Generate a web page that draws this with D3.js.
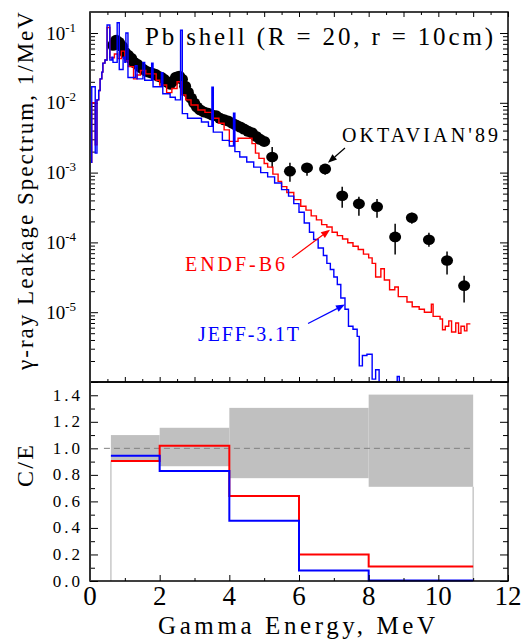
<!DOCTYPE html>
<html lang="en">
<head>
<meta charset="UTF-8">
<title>Pb shell gamma-ray leakage</title>
<script src="https://cdn.jsdelivr.net/npm/d3@7"></script>
<style>
  body { margin: 0; background: #fff; }
  svg text { font-family: "Liberation Serif", "Times New Roman", serif; }
</style>
</head>
<body>
<svg id="chart" width="522" height="640"></svg>
<script>
// ---- values ----
// ENDF-B6 histogram: bin start energy (MeV) and value (1/MeV); last bin ends at redEnd
const redE = [0.00,0.05,0.15,0.20,0.25,0.29,0.34,0.37,0.43,0.49,0.57,0.70,0.80,0.90,1.00,1.10,1.25,1.35,1.45,1.60,
  1.90,2.00,2.20,2.35,2.50,2.62,2.75,2.90,3.10,3.30,3.50,3.70,3.85,4.00,4.25,4.65,4.75,4.85,5.00,5.10,
  5.25,5.40,5.50,5.65,5.85,6.05,6.20,6.35,6.50,6.65,6.80,6.95,7.10,7.25,7.40,7.55,7.70,7.85,8.00,8.10,
  8.20,8.35,8.45,8.60,8.75,8.85,9.10,9.25,9.45,9.60,9.80,9.85,10.05,10.12,10.20,10.30,10.38,10.50,10.58,10.65,
  10.75,10.82];
const redV = [1.4e-3,1.0e-2,2.5e-3,1.1e-2,1.5e-2,2.2e-2,2.75e-2,3.7e-2,4.1e-2,1.2e-1,4.4e-2,5.0e-2,4.3e-2,5.5e-2,4.0e-2,3.3e-2,2.2e-2,2.5e-2,2.9e-2,2.6e-2,
  2.1e-2,1.8e-2,1.4e-2,1.6e-2,2.0e-2,1.3e-2,1.1e-2,9.3e-3,7.9e-3,7.3e-3,6.0e-3,5.1e-3,4.1e-3,2.8e-3,3.1e-3,2.6e-3,1.9e-3,1.6e-3,1.35e-3,1.2e-3,
  9.5e-4,7.5e-4,6.3e-4,5.2e-4,4.1e-4,3.3e-4,2.9e-4,2.4e-4,2.1e-4,1.8e-4,1.66e-4,1.4e-4,1.25e-4,1.12e-4,9.9e-5,8.8e-5,7.9e-5,6.8e-5,6.0e-5,5.0e-5,
  3.2e-5,4.2e-5,2.9e-5,2.1e-5,2.3e-5,1.67e-5,1.4e-5,1.2e-5,1.1e-5,1.0e-5,1.3e-5,8.7e-6,8.0e-6,5.6e-6,6.3e-6,7.5e-6,5.2e-6,7.0e-6,5.0e-6,6.3e-6,
  5.4e-6,6.8e-6];
const redEnd = 10.92;

// JEFF-3.1T histogram
const blueE = [0.00,0.05,0.15,0.20,0.25,0.29,0.34,0.37,0.43,0.49,0.57,0.63,0.66,0.78,0.84,0.95,1.00,1.03,1.09,1.30,
  1.35,1.52,1.57,1.77,1.81,2.05,2.09,2.30,2.45,2.60,2.65,2.80,3.20,3.40,3.50,3.54,3.80,4.00,4.12,4.16,
  4.30,4.50,4.70,4.90,5.10,5.30,5.50,5.70,5.85,6.00,6.15,6.30,6.42,6.55,6.70,6.80,6.90,7.00,7.10,7.20,
  7.32,7.42,7.55,7.67,7.73,7.82,7.95,8.10,8.20,8.30,8.82,8.88];
const blueV = [1.4e-3,1.7e-2,1.9e-3,1.1e-2,1.5e-2,2.2e-2,2.75e-2,3.7e-2,4.1e-2,1.3e-1,4.1e-2,4.5e-2,3.8e-2,1.4e-1,3.0e-2,4.5e-2,3.8e-2,1.0e-1,2.3e-2,3.4e-2,
  2.2e-2,3.8e-2,2.1e-2,3.7e-2,1.7e-2,2.7e-2,1.35e-2,1.2e-2,1.1e-2,1.1e-1,7.0e-3,6.0e-3,5.3e-3,4.6e-3,1.67e-2,3.8e-3,2.9e-3,2.4e-3,7.1e-3,2.0e-3,
  1.67e-3,1.42e-3,1.2e-3,1.0e-3,8.7e-4,7.1e-4,5.7e-4,4.6e-4,3.6e-4,2.7e-4,1.9e-4,1.4e-4,1.1e-4,8.3e-5,6.5e-5,5.0e-5,4.1e-5,3.2e-5,2.5e-5,1.6e-5,
  1.1e-5,6.3e-6,5.7e-6,4.5e-6,1.7e-6,2.4e-6,2.5e-6,1.1e-6,1.5e-6,5e-7,1.2e-6,5e-7];
const blueEnd = 9.0;

// OKTAVIAN'89 measurement, dense part (0.6 - 5 MeV)
const expE = [0.66,0.75,0.83,0.92,1.00,1.09,1.18,1.26,1.35,1.44,1.52,1.61,1.69,1.78,1.87,1.95,2.04,2.12,2.21,2.30,
  2.38,2.47,2.56,2.64,2.73,2.81,2.90,2.99,3.07,3.16,3.27,3.39,3.50,3.62,3.73,3.85,3.96,4.08,4.19,4.31,
  4.42,4.54,4.65,4.77,4.88,5.00];
const expV = [0.0667,0.0787,0.0736,0.0645,0.053,0.048,0.0435,0.0381,0.0357,0.0324,0.0303,0.0284,0.0275,0.0266,0.0257,0.0241,0.0233,0.0218,0.0198,0.0185,
  0.0204,0.0233,0.0241,0.0218,0.0173,0.0142,0.0117,0.0099,0.0087,0.0079,0.0074,0.0071,0.0067,0.0065,0.0060,0.0057,0.0055,0.0051,0.0048,0.0045,
  0.0042,0.0039,0.0037,0.0033,0.0030,0.0028];
// OKTAVIAN'89 measurement, separate points with error bars
const ptE  = [5.23,5.74,6.23,6.75,7.24,7.72,8.24,8.76,9.24,9.73,10.25,10.74];
const ptV  = [1.67e-3,1.05e-3,1.17e-3,1.13e-3,4.65e-4,3.57e-4,3.24e-4,1.2e-4,2.25e-4,1.09e-4,5.5e-5,2.4e-5];
const ptLo = [1.17e-3,7.4e-4,9.0e-4,9.3e-4,3.13e-4,2.4e-4,2.25e-4,6.7e-5,1.85e-4,8.7e-5,3.46e-5,1.38e-5];
const ptHi = [2.33e-3,1.38e-3,1.29e-3,1.29e-3,6.25e-4,4.5e-4,4.2e-4,1.85e-4,2.65e-4,1.38e-4,7.4e-5,3.34e-5];

// C/E ratios in energy groups
const ceEdges = [0.6, 2, 4, 6, 8, 11];
const ceRed   = [0.905, 1.02, 0.64, 0.20, 0.11];
const ceBlue  = [0.945, 0.83, 0.455, 0.08, 0.004];
const bandLo  = [0.90, 0.865, 0.775, 0.775, 0.71];
const bandHi  = [1.10, 1.155, 1.305, 1.305, 1.405];

const logTicks = [1e-1, 1e-2, 1e-3, 1e-4, 1e-5];
const ceTicks = [0.0, 0.2, 0.4, 0.6, 0.8, 1.0, 1.2, 1.4];
const energyTicks = [0, 2, 4, 6, 8, 10, 12];

// ---- layout ----
const svg = d3.select("#chart");
const L = 90, R = 508, T = 12, MID = 382, B = 581;
const x = d3.scaleLinear().domain([0, 12]).range([L, R]);
const yTop = d3.scaleLog().domain([1e-6, 0.2]).range([MID, T]);
const yBot = d3.scaleLinear().domain([0, 1.5]).range([B, MID]);
const RED = "#ff0000", BLUE = "#0000ff";

svg.append("defs").append("clipPath").attr("id", "clipTop")
  .append("rect").attr("x", L).attr("y", T).attr("width", R - L).attr("height", MID - T);

function noDomain(g) { g.select(".domain").remove(); g.selectAll("line").attr("stroke", "#000"); }

// ---- top panel ticks ----
const majorLog = d3.range(-6, 0).map(p => Math.pow(10, p));
const minorLog = [];
d3.range(-6, 0).forEach(p => d3.range(2, 10).forEach(k => { if (k * Math.pow(10, p) < 0.2) minorLog.push(k * Math.pow(10, p)); }));

svg.append("g").attr("transform", `translate(${L},0)`)
  .call(d3.axisLeft(yTop).tickValues(majorLog).tickSize(-8).tickFormat("")).call(noDomain);
svg.append("g").attr("transform", `translate(${L},0)`)
  .call(d3.axisLeft(yTop).tickValues(minorLog).tickSize(-5).tickFormat("")).call(noDomain);
svg.append("g").attr("transform", `translate(${R},0)`)
  .call(d3.axisRight(yTop).tickValues(majorLog).tickSize(-8).tickFormat("")).call(noDomain);
svg.append("g").attr("transform", `translate(${R},0)`)
  .call(d3.axisRight(yTop).tickValues(minorLog).tickSize(-5).tickFormat("")).call(noDomain);

const eMajorTop = d3.range(0, 13, 1), eMinorTop = d3.range(0.5, 12, 1);
[[T, d3.axisTop], [MID, d3.axisBottom]].forEach(([yy, ax]) => {
  svg.append("g").attr("transform", `translate(0,${yy})`)
    .call(ax(x).tickValues(eMajorTop).tickSize(-5).tickFormat("")).call(noDomain);
  svg.append("g").attr("transform", `translate(0,${yy})`)
    .call(ax(x).tickValues(eMinorTop).tickSize(-3).tickFormat("")).call(noDomain);
});

// log tick labels with superscripts
const lab = svg.append("g");
logTicks.forEach(v => {
  const t = lab.append("text").attr("x", 76).attr("y", yTop(v) + 6.5)
    .attr("text-anchor", "end").attr("font-size", 19);
  t.append("tspan").text("10");
  t.append("tspan").attr("font-size", 13).attr("dy", -8).text(String(Math.round(Math.log10(v))));
});

// ---- top panel data ----
const plotTop = svg.append("g").attr("clip-path", "url(#clipTop)");

plotTop.selectAll(".exp").data(expE).enter().append("ellipse")
  .attr("cx", (d) => x(d)).attr("cy", (d, i) => yTop(expV[i]))
  .attr("rx", 6).attr("ry", 5.5).attr("fill", "#000");

plotTop.selectAll(".err").data(ptE).enter().append("line")
  .attr("x1", d => x(d)).attr("x2", d => x(d))
  .attr("y1", (d, i) => yTop(ptLo[i])).attr("y2", (d, i) => yTop(ptHi[i]))
  .attr("stroke", "#000").attr("stroke-width", 1.5);
plotTop.selectAll(".pt").data(ptE).enter().append("ellipse")
  .attr("cx", d => x(d)).attr("cy", (d, i) => yTop(ptV[i]))
  .attr("rx", 6).attr("ry", 5.3).attr("fill", "#000");

function stepPoints(E, V, end) {
  const pts = E.map((e, i) => [e, V[i]]);
  pts.push([end, V[V.length - 1]]);
  return pts;
}
const stepTop = d3.line().x(d => x(d[0])).y(d => yTop(d[1])).curve(d3.curveStepAfter);

plotTop.append("path").attr("d", stepTop(stepPoints(redE, redV, redEnd)))
  .attr("fill", "none").attr("stroke", RED).attr("stroke-width", 1.4);
plotTop.append("path").attr("d", stepTop(stepPoints(blueE, blueV, blueEnd)))
  .attr("fill", "none").attr("stroke", BLUE).attr("stroke-width", 1.4);

// title
svg.append("text").attr("x", 145).attr("y", 45).attr("font-size", 25)
  .attr("textLength", 348).attr("lengthAdjust", "spacing")
  .text("Pb shell (R = 20, r = 10cm)");

// annotations with arrows
function arrow(e0, v0, e1, v1, color) {
  const x0 = x(e0), y0 = yTop(v0), x1 = x(e1), y1 = yTop(v1);
  const a = Math.atan2(y1 - y0, x1 - x0), len = 9, hw = 3.5;
  const bx = x1 - len * Math.cos(a), by = y1 - len * Math.sin(a);
  svg.append("line").attr("x1", x0).attr("y1", y0).attr("x2", bx).attr("y2", by)
    .attr("stroke", color).attr("stroke-width", 1.2);
  svg.append("polygon").attr("fill", color).attr("points", [
    [x1, y1],
    [bx + hw * Math.sin(a), by - hw * Math.cos(a)],
    [bx - hw * Math.sin(a), by + hw * Math.cos(a)]
  ].map(p => p.join(",")).join(" "));
}
arrow(7.32, 2.25e-3, 6.83, 1.38e-3, "#000");
arrow(5.80, 6.0e-5, 6.89, 1.52e-4, RED);
arrow(6.26, 6.9e-6, 7.32, 1.29e-5, BLUE);

svg.append("text").attr("x", 342).attr("y", 142).attr("font-size", 20)
  .attr("textLength", 156).attr("lengthAdjust", "spacing").text("OKTAVIAN'89");
svg.append("text").attr("x", 185).attr("y", 271).attr("font-size", 20).attr("fill", RED)
  .attr("textLength", 100).attr("lengthAdjust", "spacing").text("ENDF-B6");
svg.append("text").attr("x", 198).attr("y", 341).attr("font-size", 20).attr("fill", BLUE)
  .attr("textLength", 101).attr("lengthAdjust", "spacing").text("JEFF-3.1T");

// ---- bottom panel ----
const bot = svg.append("g");
bot.selectAll(".band").data(bandLo).enter().append("rect")
  .attr("x", (d, i) => x(ceEdges[i])).attr("width", (d, i) => x(ceEdges[i + 1]) - x(ceEdges[i]))
  .attr("y", (d, i) => yBot(bandHi[i])).attr("height", (d, i) => yBot(d) - yBot(bandHi[i]))
  .attr("fill", "#c0c0c0");
[[ceEdges[0], bandLo[0]], [ceEdges[ceEdges.length - 1], bandLo[bandLo.length - 1]]].forEach(([e, v]) => {
  bot.append("line").attr("x1", x(e)).attr("x2", x(e)).attr("y1", yBot(0)).attr("y2", yBot(v))
    .attr("stroke", "#c8c8c8").attr("stroke-width", 1.5);
});
bot.append("line").attr("x1", x(0.4)).attr("x2", x(11)).attr("y1", yBot(1)).attr("y2", yBot(1))
  .attr("stroke", "#808080").attr("stroke-width", 1).attr("stroke-dasharray", "6,4");

const stepBot = d3.line().x(d => x(d[0])).y(d => yBot(d[1])).curve(d3.curveStepAfter);
bot.append("path").attr("d", stepBot(stepPoints(ceEdges.slice(0, -1), ceRed, 11)))
  .attr("fill", "none").attr("stroke", RED).attr("stroke-width", 2);
bot.append("path").attr("d", stepBot(stepPoints(ceEdges.slice(0, -1), ceBlue, 11)))
  .attr("fill", "none").attr("stroke", BLUE).attr("stroke-width", 2);

const ceMajor = d3.range(0, 1.41, 0.2), ceMinor = d3.range(0.1, 1.5, 0.2);
svg.append("g").attr("transform", `translate(${L},0)`)
  .call(d3.axisLeft(yBot).tickValues(ceMajor).tickSize(-8).tickFormat("")).call(noDomain);
svg.append("g").attr("transform", `translate(${L},0)`)
  .call(d3.axisLeft(yBot).tickValues(ceMinor).tickSize(-5).tickFormat("")).call(noDomain);
svg.append("g").attr("transform", `translate(${R},0)`)
  .call(d3.axisRight(yBot).tickValues(ceMajor).tickSize(-8).tickFormat("")).call(noDomain);
svg.append("g").attr("transform", `translate(${R},0)`)
  .call(d3.axisRight(yBot).tickValues(ceMinor).tickSize(-5).tickFormat("")).call(noDomain);
svg.append("g").attr("transform", `translate(0,${B})`)
  .call(d3.axisBottom(x).tickValues(d3.range(0, 13, 2)).tickSize(-6).tickFormat("")).call(noDomain);
svg.append("g").attr("transform", `translate(0,${B})`)
  .call(d3.axisBottom(x).tickValues(d3.range(1, 12, 2)).tickSize(-3).tickFormat("")).call(noDomain);

svg.append("g").selectAll("text").data(ceTicks).enter().append("text")
  .attr("x", 83).attr("y", d => yBot(d) + 5.5).attr("text-anchor", "end")
  .attr("font-size", 17).attr("letter-spacing", 3).text(d => d.toFixed(1));
svg.append("g").selectAll("text").data(energyTicks).enter().append("text")
  .attr("x", d => x(d)).attr("y", 605).attr("text-anchor", "middle")
  .attr("font-size", 27).text(d => d);

// frames
[[T, MID], [MID, B]].forEach(([a, b]) => {
  svg.append("rect").attr("x", L).attr("y", a).attr("width", R - L).attr("height", b - a)
    .attr("fill", "none").attr("stroke", "#000").attr("stroke-width", 1.5);
});
svg.append("line").attr("x1", L).attr("x2", L).attr("y1", T).attr("y2", B)
  .attr("stroke", "#333").attr("stroke-width", 2);

// axis titles
svg.append("text").attr("transform", "translate(33,191) rotate(-90)")
  .attr("text-anchor", "middle").attr("font-size", 23)
  .attr("textLength", 358).attr("lengthAdjust", "spacing")
  .text("γ-ray Leakage Spectrum, 1/MeV");
svg.append("text").attr("transform", "translate(33,466) rotate(-90)")
  .attr("text-anchor", "middle").attr("font-size", 24)
  .attr("textLength", 42).attr("lengthAdjust", "spacing").text("C/E");
svg.append("text").attr("x", 158).attr("y", 634).attr("font-size", 25)
  .attr("textLength", 277).attr("lengthAdjust", "spacing").text("Gamma Energy, MeV");
</script>
</body>
</html>
